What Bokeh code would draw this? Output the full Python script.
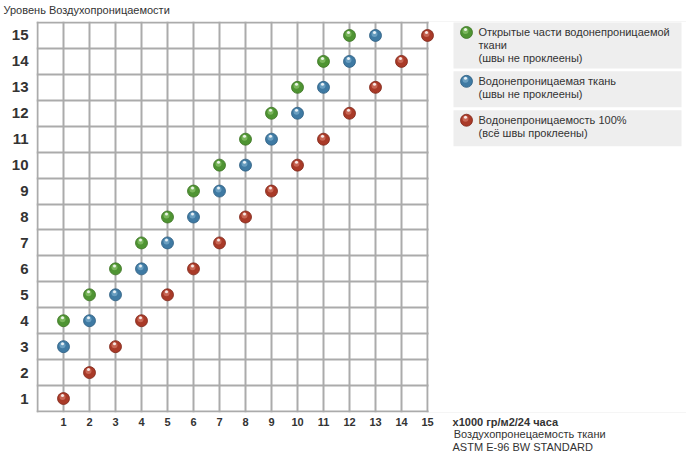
from bokeh.plotting import figure
from bokeh.models import Range1d, FixedTicker, LinearAxis
from bokeh.embed import file_html
from bokeh.resources import INLINE
from bokeh.core.properties import value

# ---------------- data ----------------
title_text = "Уровень Воздухопроницаемости"
x_ticks = [1, 2, 3, 4, 5, 6, 7, 8, 9, 10, 11, 12, 13, 14, 15]
y_ticks = [1, 2, 3, 4, 5, 6, 7, 8, 9, 10, 11, 12, 13, 14, 15]

green_x = [1, 2, 3, 4, 5, 6, 7, 8, 9, 10, 11, 12]
green_y = [4, 5, 6, 7, 8, 9, 10, 11, 12, 13, 14, 15]
blue_x = [1, 2, 3, 4, 5, 6, 7, 8, 9, 10, 11, 12, 13]
blue_y = [3, 4, 5, 6, 7, 8, 9, 10, 11, 12, 13, 14, 15]
red_x = [1, 2, 3, 4, 5, 6, 7, 8, 9, 10, 11, 12, 13, 14, 15]
red_y = [1, 2, 3, 4, 5, 6, 7, 8, 9, 10, 11, 12, 13, 14, 15]

series_labels = [
    ["Открытые части водонепроницаемой", "ткани", "(швы не проклеены)"],
    ["Водонепроницаемая ткань", "(швы не проклеены)"],
    ["Водонепроницаемость 100%", "(всё швы проклеены)"],
]
x_note = ["x1000 гр/м2/24 часа", "Воздухопронецаемость ткани", "ASTM E-96 BW STANDARD"]

# ---------------- styles / layout ----------------
FONT = "Liberation Sans"
TXT = "#333333"
GRID = "#ababab"
fills = ["#4f9433", "#3f7aa3", "#a93a28"]
edges = ["#3b7222", "#2c5d80", "#7e2516"]
highs = ["#9fd27d", "#8dbbd9", "#e08a78"]

W, H = 686, 462
PX = 26.0          # pixels per data unit
X0_PX = 37         # page x of x = 0
Y_TOP_PX = 21      # page y of the top grid line
Y_TOP = y_ticks[-1] + 0.5
Y_BOT = y_ticks[0] - 0.5


def dx(px):
    return (px - X0_PX) / PX


def dy(py):
    return Y_TOP - (py - Y_TOP_PX) / PX


x_start = dx(X0_PX - 1)
x_end = dx(W)
y_end = Y_TOP + 1 / PX
y_start = Y_BOT - 1 / PX
frame_bottom_px = Y_TOP_PX - 1 + int(round((y_end - y_start) * PX))

p = figure(width=W, height=H,
           x_range=Range1d(x_start, x_end), y_range=Range1d(y_start, y_end),
           output_backend="svg", toolbar_location=None,
           min_border_left=X0_PX - 1, min_border_right=0,
           min_border_top=Y_TOP_PX - 1, min_border_bottom=H - frame_bottom_px,
           outline_line_color=None,
           background_fill_color="white", border_fill_color="white")

p.title.text = title_text
p.title.align = "left"
p.title.vertical_align = "top"
p.title.offset = 3 - (X0_PX - 1)
p.title.standoff = 7
p.title.text_font = FONT
p.title.text_font_size = "11px"
p.title.text_font_style = "normal"
p.title.text_color = TXT

note_centers = [dx(504.8), dx(529.2), dx(522.2)]

p.xaxis.ticker = FixedTicker(ticks=x_ticks + [note_centers[0]])
p.xaxis.major_label_overrides = {note_centers[0]: x_note[0]}
p.yaxis.ticker = FixedTicker(ticks=y_ticks)


def style_axis(ax, size, bold, standoff):
    ax.axis_line_color = None
    ax.major_tick_line_color = None
    ax.minor_tick_line_color = None
    ax.major_tick_out = 0
    ax.major_tick_in = 0
    ax.major_label_text_color = TXT
    ax.major_label_text_font = FONT
    ax.major_label_text_font_style = "bold" if bold else "normal"
    ax.major_label_text_font_size = size
    ax.major_label_standoff = standoff


style_axis(p.xaxis[0], "11px", True, 3)
style_axis(p.yaxis[0], "15px", True, 8)

for k, so in ((1, -3), (2, -2)):
    ax = LinearAxis(ticker=FixedTicker(ticks=[note_centers[k]]),
                    major_label_overrides={note_centers[k]: x_note[k]})
    style_axis(ax, "11px", False, so)
    p.add_layout(ax, "below")

p.xgrid.ticker = FixedTicker(ticks=[0] + x_ticks)
p.ygrid.ticker = FixedTicker(ticks=[t - 0.5 for t in y_ticks] + [y_ticks[-1] + 0.5])
for g in (p.xgrid[0], p.ygrid[0]):
    g.grid_line_color = GRID
    g.grid_line_width = 2

# white mask over the grid lines to the right of the last column (legend area)
p.quad(left=[x_ticks[-1] + 1.2 / PX], right=[x_end + 1], bottom=[y_start - 1], top=[y_end + 1],
       fill_color="white", line_color=None)

series = [(green_x, green_y), (blue_x, blue_y), (red_x, red_y)]
for i, (xs, ys) in enumerate(series):
    p.scatter(xs, ys, size=12, marker="circle", fill_color=fills[i],
              line_color=edges[i], line_width=0.8)
    p.scatter([x - 1.0 / PX for x in xs], [y + 1.5 / PX for y in ys], size=6,
              marker="circle", fill_color=highs[i], fill_alpha=0.55, line_color=None)
    p.scatter([x - 1.0 / PX for x in xs], [y + 3.0 / PX for y in ys], size=3,
              marker="circle", fill_color="white", fill_alpha=0.85, line_color=None)

# ---------------- legend (three grey boxes) ----------------
box_tops = [21, 70, 109]
box_bottoms = [67, 106, 145]
p.quad(left=[dx(453)] * 3, right=[dx(681)] * 3,
       top=[dy(t) for t in box_tops], bottom=[dy(b) for b in box_bottoms],
       fill_color="#eeeeee", line_color=None)

line_h = 13
lx, ly, lt = [], [], []
for i, lines in enumerate(series_labels):
    for j, t in enumerate(lines):
        lx.append(dx(478))
        ly.append(dy(box_tops[i] + 10 + j * line_h))
        lt.append(t)
p.text(lx, ly, text=lt, text_font=value(FONT), text_font_size="11px",
       text_color=TXT, text_baseline="middle", text_align="left")

mx = [dx(466)] * 3
my = [dy(t + 10) for t in box_tops]
p.scatter(mx, my, size=12, marker="circle", fill_color=fills, line_color=edges, line_width=0.8)
p.scatter([x - 1.0 / PX for x in mx], [y + 1.5 / PX for y in my], size=6, marker="circle",
          fill_color=highs, fill_alpha=0.55, line_color=None)
p.scatter([x - 1.0 / PX for x in mx], [y + 3.0 / PX for y in my], size=3, marker="circle",
          fill_color="white", fill_alpha=0.85, line_color=None)

open("out.html", "w").write(file_html(p, INLINE))
